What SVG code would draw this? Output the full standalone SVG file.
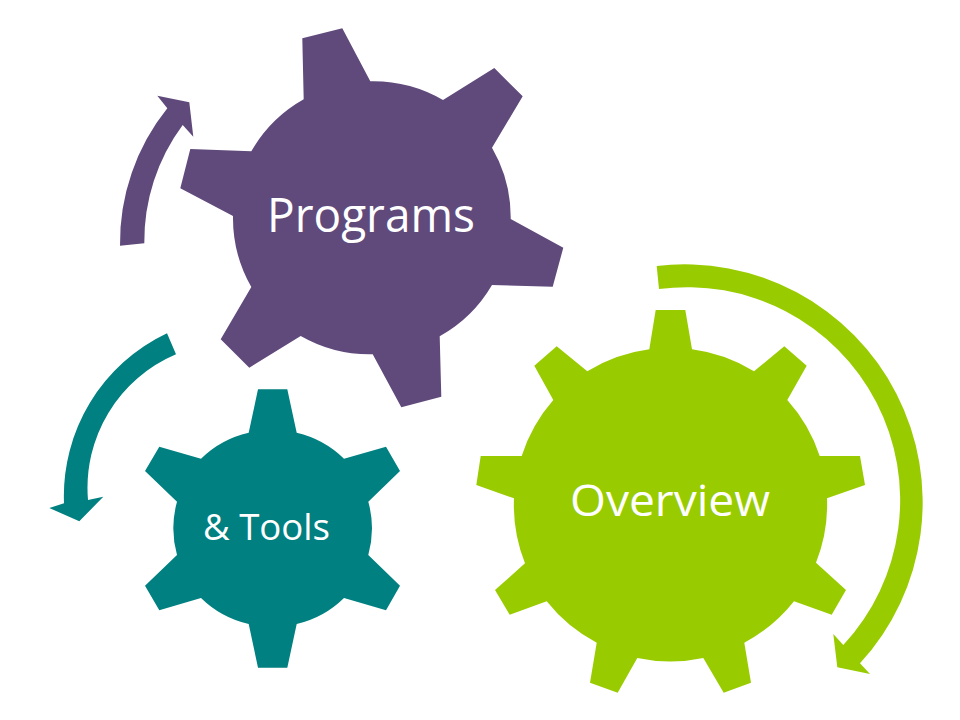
<svg xmlns="http://www.w3.org/2000/svg" width="960" height="720" viewBox="0 0 960 720">
<style>
.lbl{font-family:"Open Sans","Lato","Liberation Sans",sans-serif;fill:#fff;text-anchor:middle;font-weight:400}
.purple{fill:#604A7B}.teal{fill:#008080}.green{fill:#99CC00}
</style>
<rect width="960" height="720" fill="#fff"/>
<g id="connectors">
<path id="arrow-purple" class="purple" d="M120 245.7A215 215 0 0 1 167.3 108.3L157.3 95.7L189.3 102.3L193.3 136.7L182.7 125A195 195 0 0 0 144.3 243.3Z"/>
<path id="arrow-teal" class="teal" d="M167 333.3A180 180 0 0 0 64 503.3L49.3 508L79.3 521.3L103.3 496.7L88 500A145 145 0 0 1 176 354.3Z"/>
<path id="arrow-green" class="green" d="M656.7 266A238 238 0 0 1 860 663.3L870 674L837.3 667.3L833.3 634L843.3 645A213 213 0 0 0 659 289Z"/>
</g>
<g id="node-programs">
<path class="purple" d="M302.3 38.3L342.3 28.3L370.3 81.3A139 139 0 0 1 443 100L494.3 68L522.7 96.3L492 147.7A139 139 0 0 1 510.7 219L563.3 247.7L552.7 286.7L492 285A139 139 0 0 1 439.7 336.3L441.3 396.7L401.3 407.3L372.7 354.3A139 139 0 0 1 300.7 336L249.3 367.7L220.7 339.3L251.3 287A139 139 0 0 1 233 216L180.3 188.3L190.3 149L251.3 151.3A139 139 0 0 1 303.7 99.3Z"/>
<text class="lbl" x="371" y="232" font-size="47" textLength="208" lengthAdjust="spacingAndGlyphs">Programs</text>
</g>
<g id="node-overview">
<path class="green" d="M655.7 310H685.3L692 349.3A157 157 0 0 1 754 371.3L784.3 346.3L806.7 365.7L787.3 400A157 157 0 0 1 819.7 456H860L865 485L827 498.3A157 157 0 0 1 816 562.7L846 590L831.7 614.7L794 601.3A157 157 0 0 1 744.3 642.7L751 682.7L723.7 692.7L703.3 658A157 157 0 0 1 637.3 658L617.7 692.7L590 682.7L596.7 642.7A157 157 0 0 1 546.7 601.3L509.7 614.7L495 590L525 563.3A157 157 0 0 1 514 498.3L476.3 485L480.7 456H521.7A157 157 0 0 1 553.3 400L534.3 365.7L556.7 346.3L587.3 371.3A157 157 0 0 1 649.3 349.3Z"/>
<text class="lbl" x="670" y="516" font-size="44" textLength="200" lengthAdjust="spacingAndGlyphs">Overview</text>
</g>
<g id="node-tools">
<path class="teal" d="M258 389.3H287.3L296.7 432.7A99.5 99.5 0 0 1 344 458.7L386 446.7L400 471L368.3 501.7A99.5 99.5 0 0 1 368.3 555L400 585.7L386 610.3L344 598A99.5 99.5 0 0 1 296.7 624L287.3 667.7H258L248.7 624A99.5 99.5 0 0 1 201 598L159.3 610.3L145 585.7L177 555A99.5 99.5 0 0 1 177 501.7L145 471L159.3 446.7L201 458.7A99.5 99.5 0 0 1 248.7 432.7Z"/>
<text class="lbl" x="266.5" y="540" font-size="36" textLength="127" lengthAdjust="spacingAndGlyphs">&amp; Tools</text>
</g>
</svg>
